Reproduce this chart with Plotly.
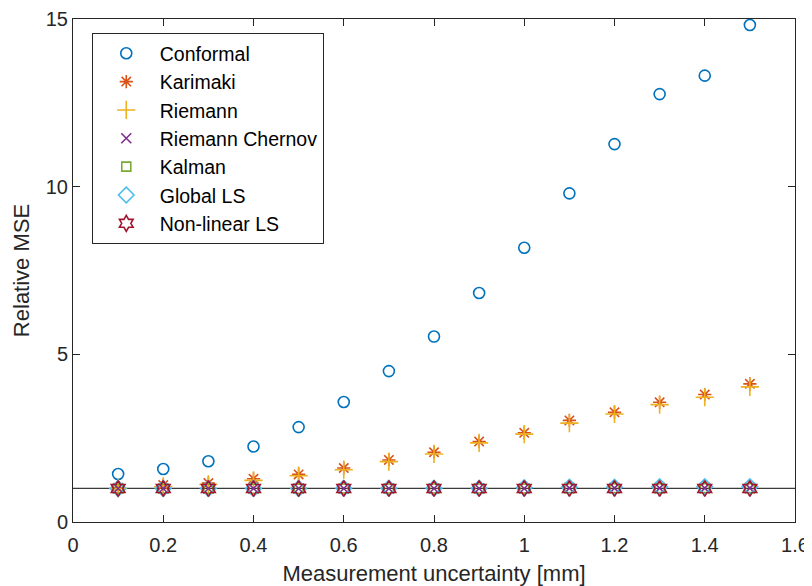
import plotly.graph_objects as go

x = [0.1, 0.2, 0.3, 0.4, 0.5, 0.6, 0.7, 0.8, 0.9, 1.0, 1.1, 1.2, 1.3, 1.4, 1.5]
conformal = [1.43, 1.58, 1.81, 2.25, 2.83, 3.58, 4.50, 5.53, 6.83, 8.18, 9.80, 11.27, 12.76, 13.31, 14.82]
karimaki = [1.02, 1.10, 1.16, 1.29, 1.42, 1.61, 1.85, 2.08, 2.40, 2.66, 3.03, 3.27, 3.57, 3.80, 4.12]
riemann = [1.00, 1.06, 1.12, 1.24, 1.38, 1.56, 1.80, 2.03, 2.36, 2.62, 2.95, 3.22, 3.50, 3.72, 4.03]
riemann_chernov = [1.00, 1.00, 1.00, 1.00, 1.00, 1.00, 1.00, 1.00, 1.00, 1.00, 1.01, 1.01, 1.01, 1.01, 1.01]
kalman = [0.99, 0.99, 0.99, 0.99, 0.99, 1.00, 1.00, 1.00, 1.00, 1.00, 1.01, 1.01, 1.01, 1.01, 1.01]
global_ls = [1.00, 1.00, 1.00, 1.00, 1.00, 1.01, 1.01, 1.01, 1.01, 1.02, 1.04, 1.04, 1.05, 1.05, 1.05]
nonlinear_ls = [1.00, 1.00, 1.00, 1.00, 1.00, 1.00, 1.00, 1.00, 1.00, 1.00, 1.00, 1.00, 1.00, 1.00, 1.00]

ref_x = [0, 1.6]
ref_y = [1, 1]

series = [
    ("Conformal", conformal, "#0072BD", "circle-open", 11),
    ("Karimaki", karimaki, "#D95319", "asterisk-open", 11),
    ("Riemann", riemann, "#EDB120", "cross-thin-open", 13),
    ("Riemann Chernov", riemann_chernov, "#7E2F8E", "x-thin-open", 10),
    ("Kalman", kalman, "#77AC30", "square-open", 9),
    ("Global LS", global_ls, "#4DBEEE", "diamond-open", 12),
    ("Non-linear LS", nonlinear_ls, "#A2142F", "hexagram-open", 12),
]

fig = go.Figure()
fig.add_trace(go.Scatter(x=ref_x, y=ref_y, mode="lines",
                         line=dict(color="#3a3a3a", width=1.2), showlegend=False,
                         hoverinfo="skip"))
for name, vals, color, sym, size in series:
    fig.add_trace(go.Scatter(
        x=x, y=vals, mode="markers", name=name,
        marker=dict(symbol=sym, size=size, color=color,
                    line=dict(color=color, width=1.6)),
    ))

axis_common = dict(
    showline=True, linecolor="#262626", linewidth=1, mirror="ticks",
    ticks="inside", ticklen=7, tickcolor="#262626", showgrid=False,
    zeroline=False, automargin=False, ticklabeloverflow="allow",
    tickfont=dict(family="Liberation Sans, Arial", size=20, color="#262626"),
)

fig.update_layout(
    width=804, height=578,
    paper_bgcolor="white", plot_bgcolor="white",
    margin=dict(l=65, r=17, t=11, b=64),
    font=dict(family="Liberation Sans, Arial", color="#262626"),
    xaxis=dict(range=[0, 1.6], tickvals=[0, 0.2, 0.4, 0.6, 0.8, 1, 1.2, 1.4, 1.6],
               ticktext=["0", "0.2", "0.4", "0.6", "0.8", "1", "1.2", "1.4", "1.6"],
               ticklabelstandoff=5,
               title=dict(text="Measurement uncertainty [mm]", font=dict(size=22), standoff=10),
               **axis_common),
    yaxis=dict(range=[0, 15], tickvals=[0, 5, 10, 15],
               title=dict(text="Relative MSE", font=dict(size=22), standoff=10),
               **axis_common),
    legend=dict(x=0.026, y=0.972, xanchor="left", yanchor="top",
                bgcolor="white", bordercolor="#262626", borderwidth=1,
                font=dict(size=19.5, color="#000000"), itemsizing="trace",
                itemwidth=57, tracegroupgap=0),
    showlegend=True,
)

fig.write_html("out.html")
